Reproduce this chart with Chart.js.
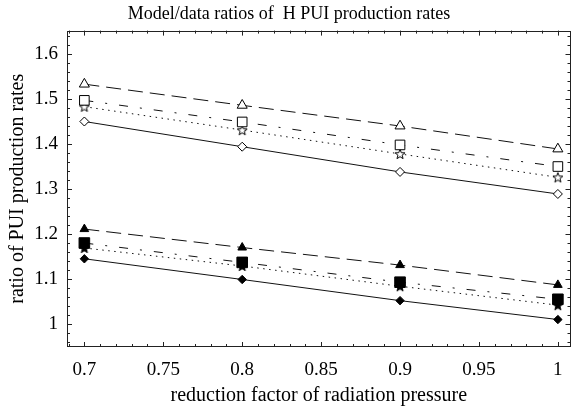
<!DOCTYPE html>
<html>
<head>
<meta charset="utf-8">
<script src="https://cdn.jsdelivr.net/npm/chart.js@4.4.1/dist/chart.umd.min.js"></script>
<style>
  html, body { margin: 0; padding: 0; background: #fff; }
  #wrap { width: 579px; height: 410px; }
</style>
</head>
<body>
<div id="wrap"><canvas id="c" width="579" height="410"></canvas></div>
<script>
// ---- data ----
const reductionFactors = [0.7, 0.8, 0.9, 1.0];
const openTriangle  = [1.533, 1.486, 1.440, 1.389];
const openSquare    = [1.497, 1.449, 1.398, 1.350];
const openStar      = [1.483, 1.431, 1.378, 1.326];
const openDiamond   = [1.450, 1.394, 1.338, 1.289];
const filledTriangle = [1.211, 1.170, 1.131, 1.087];
const filledSquare   = [1.180, 1.137, 1.093, 1.055];
const filledStar     = [1.169, 1.129, 1.084, 1.042];
const filledDiamond  = [1.145, 1.099, 1.052, 1.010];
const titleText = 'Model/data ratios of  H PUI production rates';
const xTitle = 'reduction factor of radiation pressure';
const yTitle = 'ratio of PUI production rates';

const FONT = 'Liberation Serif';

function makeStar(fill) {
  const s = 14, c = document.createElement('canvas');
  c.width = s; c.height = s;
  const g = c.getContext('2d');
  const cx = s / 2, cy = s / 2 + 0.5, R = 5.2, r = 2.2;
  g.beginPath();
  for (let i = 0; i < 10; i++) {
    const rad = (i % 2 === 0) ? R : r;
    const a = -Math.PI / 2 + i * Math.PI / 5;
    const px = cx + rad * Math.cos(a), py = cy + rad * Math.sin(a);
    if (i === 0) g.moveTo(px, py); else g.lineTo(px, py);
  }
  g.closePath();
  g.fillStyle = fill; g.fill();
  g.strokeStyle = '#000'; g.lineWidth = 1; g.stroke();
  return c;
}

function pts(vals) { return reductionFactors.map((x, i) => ({x: x, y: vals[i]})); }

function ds(vals, style, filled, dash, radius) {
  return {
    data: pts(vals),
    borderColor: '#111',
    borderWidth: 1,
    borderDash: dash,
    pointStyle: style,
    pointRadius: radius,
    pointHoverRadius: radius,
    pointBackgroundColor: filled ? '#000' : '#fff',
    pointBorderColor: '#000',
    pointBorderWidth: 1,
    showLine: true,
    fill: false,
    tension: 0
  };
}

const DASH = [15, 7], DASHDOT = [9, 12, 2, 12], DOT = [1.5, 4.5], SOLID = [];
const starOpen = makeStar('#fff'), starFilled = makeStar('#000');

function isMult(v, step) { const q = v / step; return Math.abs(q - Math.round(q)) < 1e-6; }

const framePlugin = {
  id: 'frameTicks',
  afterDraw(chart) {
    const ctx = chart.ctx, a = chart.chartArea;
    const xs = chart.scales.x, ys = chart.scales.y;
    ctx.save();
    ctx.strokeStyle = '#222';
    ctx.lineWidth = 1;
    ctx.strokeRect(Math.round(a.left) + 0.5, Math.round(a.top) + 0.5,
                   Math.round(a.right) - Math.round(a.left) - 1, Math.round(a.bottom) - Math.round(a.top) - 1);
    ctx.beginPath();
    xs.ticks.forEach(t => {
      if (!isMult(t.value, 0.01)) return;
      const p = Math.round(xs.getPixelForValue(t.value)) + 0.5;
      const len = isMult(t.value, 0.05) ? 5 : 3;
      ctx.moveTo(p, a.bottom); ctx.lineTo(p, a.bottom - len);
      ctx.moveTo(p, a.top); ctx.lineTo(p, a.top + len);
    });
    ys.ticks.forEach(t => {
      if (!isMult(t.value, 0.02)) return;
      const p = Math.round(ys.getPixelForValue(t.value)) + 0.5;
      const len = isMult(t.value, 0.1) ? 5 : 3;
      ctx.moveTo(a.left, p); ctx.lineTo(a.left + len, p);
      ctx.moveTo(a.right, p); ctx.lineTo(a.right - len, p);
    });
    ctx.stroke();
    ctx.restore();
  }
};

new Chart(document.getElementById('c'), {
  type: 'scatter',
  data: {
    datasets: [
      ds(openTriangle, 'triangle', false, DASH, 5.8),
      ds(openSquare, 'rect', false, DASHDOT, 6.8),
      ds(openStar, starOpen, false, DOT, 5),
      ds(openDiamond, 'rectRot', false, SOLID, 4.5),
      ds(filledTriangle, 'triangle', true, DASH, 5),
      ds(filledSquare, 'rect', true, DASHDOT, 7.5),
      ds(filledStar, starFilled, true, DOT, 5),
      ds(filledDiamond, 'rectRot', true, SOLID, 4.2)
    ]
  },
  options: {
    responsive: false,
    animation: false,
    events: [],
    layout: { padding: { left: 0, right: 1, top: 0, bottom: 0 } },
    plugins: {
      legend: { display: false },
      tooltip: { enabled: false },
      title: {
        display: true,
        text: titleText,
        color: '#000',
        font: { family: FONT, size: 18, weight: 'normal', lineHeight: 1.2 },
        padding: { top: 3, bottom: 6 }
      }
    },
    scales: {
      x: {
        type: 'linear',
        min: 0.689, max: 1.008,
        grid: { display: false, drawTicks: false, tickLength: 0 },
        border: { display: false },
        afterFit(s) { s.height = 63; },
        title: {
          display: true, text: xTitle, color: '#000',
          font: { family: FONT, size: 20, lineHeight: 1.2 },
          padding: { top: 0, bottom: 2 }
        },
        ticks: {
          stepSize: 0.01,
          includeBounds: false,
          maxTicksLimit: 200,
          autoSkip: false,
          maxRotation: 0,
          padding: 12,
          color: '#000',
          font: { family: FONT, size: 19 },
          callback: v => isMult(v, 0.05) ? String(Math.round(v * 100) / 100) : ''
        }
      },
      y: {
        type: 'linear',
        min: 0.949, max: 1.652,
        grid: { display: false, drawTicks: false, tickLength: 0 },
        border: { display: false },
        afterFit(s) { s.width = 67; },
        title: {
          display: true, text: yTitle, color: '#000',
          font: { family: FONT, size: 20, lineHeight: 1.2 },
          padding: { top: 6, bottom: 0 }
        },
        ticks: {
          stepSize: 0.02,
          includeBounds: false,
          maxTicksLimit: 200,
          autoSkip: false,
          padding: 9,
          color: '#000',
          font: { family: FONT, size: 19 },
          callback: v => isMult(v, 0.1) ? String(Math.round(v * 10) / 10) : ''
        }
      }
    }
  },
  plugins: [framePlugin]
});
</script>
</body>
</html>
